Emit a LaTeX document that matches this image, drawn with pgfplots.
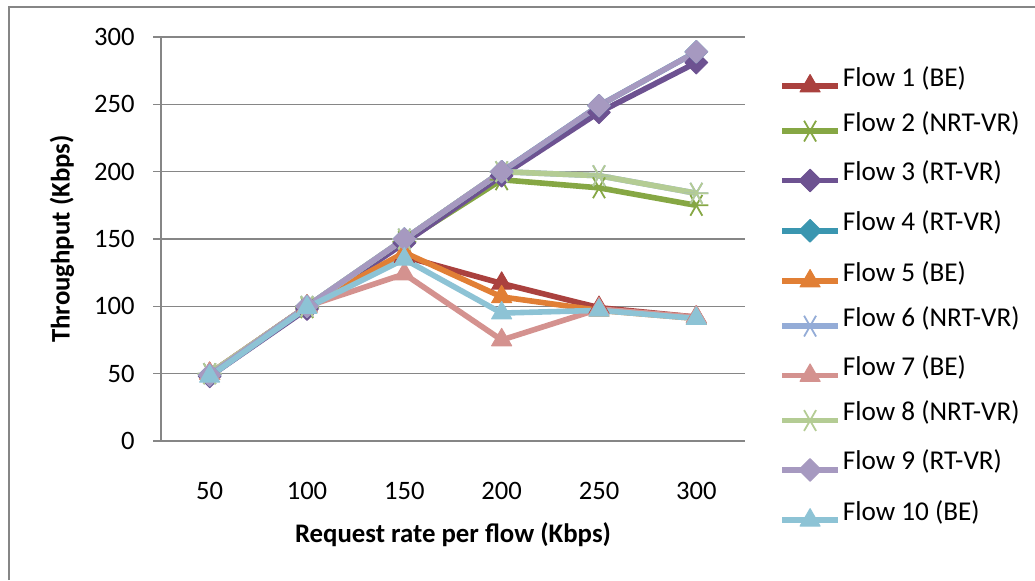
\documentclass[border=0pt]{standalone}
\usepackage{fontspec}
\setmainfont{Carlito}
\usepackage{pgfplots}
\pgfplotsset{compat=1.18}
\definecolor{f1}{RGB}{170,65,62}
\definecolor{f2}{RGB}{134,167,68}
\definecolor{f3}{RGB}{109,82,145}
\definecolor{f4}{RGB}{58,150,176}
\definecolor{f5}{RGB}{225,127,53}
\definecolor{f6}{RGB}{148,172,215}
\definecolor{f7}{RGB}{212,146,143}
\definecolor{f8}{RGB}{180,204,148}
\definecolor{f9}{RGB}{166,153,192}
\definecolor{f10}{RGB}{141,195,213}
\definecolor{axgray}{RGB}{134,134,134}
\begin{document}
\begin{tikzpicture}[x=0.5pt,y=0.5pt]
\useasboundingbox (0,0) rectangle (1035,580);
\draw[axgray, line width=1.2pt] (9,0) -- (9,573) -- (1035,573);
\begin{axis}[
  at={(80.5pt,69.5pt)}, anchor=south west,
  scale only axis, width=292pt, height=202pt,
  xmin=-0.5, xmax=5.5, ymin=0, ymax=300,
  xtick={0,1,2,3,4,5},
  xticklabels={50,100,150,200,250,300},
  ytick={0,50,100,150,200,250,300},
  axis x line*=bottom, axis y line*=left,
  axis line style={axgray, line width=0.8pt, -},
  ymajorgrids, grid style={axgray, line width=0.6pt},
  major tick length=4pt,
  tick align=outside,
  xtick style={draw=none},
  ytick style={axgray, line width=0.6pt},
  tick label style={font=\fontsize{13.3}{16}\selectfont, inner sep=0pt},
  /pgf/number format/assume math mode=true,
  xticklabel style={anchor=center, yshift=-21pt},
  yticklabel style={anchor=east, xshift=-9pt},
  xlabel={\bfseries Request rate per flow (Kbps)},
  ylabel={\bfseries Throughput (Kbps)},
  label style={font=\fontsize{13.4}{16}\selectfont},
  xlabel style={at={(axis description cs:0.5,-0.2327)}, anchor=center},
  ylabel style={at={(axis description cs:-0.1695,0.5)}, anchor=center, rotate=0},
  every axis plot/.append style={line width=2.8pt, line join=round},
  legend image code/.code={
    \draw[mark repeat=2,mark phase=2,#1] plot coordinates {(0pt,0pt) (14pt,0pt) (28pt,0pt)};},
  legend style={at={(axis description cs:1.058,0.924)}, anchor=north west, draw=none,
    fill=none, inner sep=0pt, row sep=10.5pt, column sep=1pt,
    font=\fontsize{13.6}{16}\selectfont,
    nodes={inner sep=0pt, text height=9pt, text depth=3pt, anchor=base west}},
  legend cell align=left,
]
\addplot[color=f1, mark=triangle*, mark size=5.8pt, mark options={line width=0.5pt}] coordinates {(0,50) (1,100) (2,137) (3,117) (4,99) (5,92)};
\addlegendentry{Flow 1 (BE)}
\addplot[color=f2, mark=asterisk, mark size=6pt, mark options={rotate=90, line width=0.9pt}] coordinates {(0,50) (1,99) (2,148) (3,194) (4,188) (5,175)};
\addlegendentry{Flow 2 (NRT-VR)}
\addplot[color=f3, mark=square*, mark size=4pt, mark options={rotate=45, line width=0.5pt}] coordinates {(0,48) (1,98) (2,147) (3,197) (4,244) (5,281)};
\addlegendentry{Flow 3 (RT-VR)}
\addplot[color=f4, mark=square*, mark size=4pt, mark options={rotate=45, line width=0.5pt}] coordinates {(0,49) (1,100) (2,150) (3,200) (4,249) (5,289)};
\addlegendentry{Flow 4 (RT-VR)}
\addplot[color=f5, mark=triangle*, mark size=5.8pt, mark options={line width=0.5pt}] coordinates {(0,50) (1,100) (2,140) (3,107) (4,97) (5,91)};
\addlegendentry{Flow 5 (BE)}
\addplot[color=f6, mark=asterisk, mark size=6pt, mark options={rotate=90, line width=0.9pt}] coordinates {(0,50) (1,100) (2,150) (3,200) (4,197) (5,184)};
\addlegendentry{Flow 6 (NRT-VR)}
\addplot[color=f7, mark=triangle*, mark size=5.8pt, mark options={line width=0.5pt}] coordinates {(0,50) (1,100) (2,124) (3,75) (4,98) (5,92)};
\addlegendentry{Flow 7 (BE)}
\addplot[color=f8, mark=asterisk, mark size=6pt, mark options={rotate=90, line width=0.9pt}] coordinates {(0,50) (1,100) (2,150) (3,200) (4,197) (5,184)};
\addlegendentry{Flow 8 (NRT-VR)}
\addplot[color=f9, mark=square*, mark size=4pt, mark options={rotate=45, line width=0.5pt}] coordinates {(0,49) (1,100) (2,150) (3,200) (4,249) (5,289)};
\addlegendentry{Flow 9 (RT-VR)}
\addplot[color=f10, mark=triangle*, mark size=5.8pt, mark options={line width=0.5pt}] coordinates {(0,48) (1,99) (2,135) (3,95) (4,97) (5,91)};
\addlegendentry{Flow 10 (BE)}
\end{axis}
\end{tikzpicture}
\end{document}
